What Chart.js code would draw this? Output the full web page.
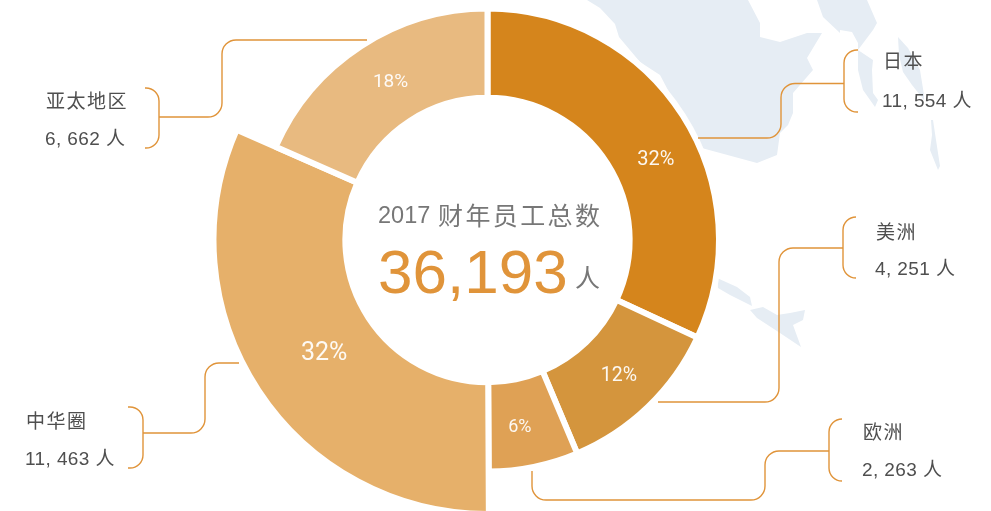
<!DOCTYPE html>
<html>
<head>
<meta charset="utf-8">
<style>
html,body{margin:0;padding:0;background:#fff}
#wrap{position:relative;width:991px;height:511px;overflow:hidden}
#wrap canvas{display:block}
</style>
<script src="https://cdn.jsdelivr.net/npm/chart.js@4"></script>
</head>
<body>
<div id="wrap"><canvas id="c"></canvas></div>
<script>
const regions = ['日本','美洲','欧洲','中华圈','亚太地区'];
const staff = [11554,4251,2263,11463,6662];
const percentLabels = ['32%','12%','6%','32%','18%'];
const staffLabels = ['11, 554 人','4, 251 人','2, 263 人','11, 463 人','6, 662 人'];
const sliceColors = ['#D5851C','#D4953D','#DFA155','#E6B06A','#E8BA80'];
const totalYear = '2017';
const totalTitle = '财年员工总数';
const totalValue = '36,193';
const totalUnit = '人';

const LINE = '#E0943A', MAP = '#E6EDF4', TEXT = '#4F4F4F', GREY = '#777777';
const SANS = '"Liberation Sans","Noto Sans CJK SC",sans-serif';

// decorative background map, zoom-crop outlines
const mapShapes = [
 [[587,0],[600,8],[615,24],[619,37],[640,62],[660,75],[698,147],[757,163],[777,155],[780,133],[788,125],[793,113],[793,93],[813,70],[807,58],[822,33],[807,33],[780,42],[760,37],[760,23],[748,0]],
 [[817,0],[823,17],[840,33],[840,30],[852,32],[858,43],[858,50],[873,60],[872,70],[873,93],[878,100],[875,107],[863,90],[858,70],[858,50],[873,30],[877,23],[867,0]],
 [[898,37],[908,48],[920,70],[924,95],[924,100],[912,85],[903,72],[899,55]],
 [[931,120],[932,135],[930,150],[938,170],[940,166],[936,140],[933,120]],
 [[717,278],[737,287],[750,297],[752,306],[730,295],[718,288]],
 [[750,310],[763,307],[777,315],[790,313],[805,310],[803,320],[793,325],[801,347],[780,333],[757,318]]
];
// leader-line routes and brackets
const leaders = [
 {b:[858,844,50,112], p:[[844,83.5],[781,83.5],[781,138],[698,138]]},
 {b:[856,843,217,278], p:[[843,248],[779,248],[779,402],[658,402]]},
 {b:[842,829,419,481], p:[[829,451],[765,451],[765,500],[532,500],[532,471]]},
 {b:[128,143,407,468], p:[[143,433],[205,433],[205,363],[239,363]]},
 {b:[145,159,88,148], p:[[159,117],[222,117],[222,40],[367,40]]}
];
const nameSpots = [[883,61],[876,232],[863,432],[26,421],[46,101]];
const countSpots = [[882,100],[875,268],[862,469],[25,458],[45,138]];
const pctShift = [[11,20],[2,2],[-5,5],[3,5],[5,-2]];
const pctSize = [20,19.5,18,25,19];

const bigSlice = {
 id:'bigSlice',
 beforeDatasetsDraw(chart){
  chart.getDatasetMeta(0).data[3].outerRadius = 274;
 }
};
const backdrop = {
 id:'backdrop',
 beforeDatasetsDraw(chart){
  const c = chart.ctx; c.save(); c.fillStyle = MAP;
  mapShapes.forEach(s=>{c.beginPath();s.forEach((q,i)=>i?c.lineTo(q[0],q[1]):c.moveTo(q[0],q[1]));c.closePath();c.fill();});
  c.restore();
 }
};
const overlay = {
 id:'overlay',
 afterDatasetsDraw(chart){
  const c = chart.ctx; c.save();
  c.strokeStyle = LINE; c.lineWidth = 1.4; c.lineCap='butt';
  leaders.forEach(l=>{
   const [ex,vx,t,bm] = l.b, rr = 13;
   c.beginPath(); c.moveTo(ex,t); c.arcTo(vx,t,vx,t+rr,rr); c.lineTo(vx,bm-rr); c.arcTo(vx,bm,ex,bm,rr); c.lineTo(ex,bm); c.stroke();
   c.beginPath(); c.moveTo(l.p[0][0],l.p[0][1]);
   for(let i=1;i<l.p.length-1;i++) c.arcTo(l.p[i][0],l.p[i][1],l.p[i+1][0],l.p[i+1][1],14);
   const e=l.p[l.p.length-1]; c.lineTo(e[0],e[1]); c.stroke();
  });
  const meta = chart.getDatasetMeta(0);
  c.textBaseline='middle'; c.textAlign='center';
  meta.data.forEach((a,i)=>{
   const mid=(a.startAngle+a.endAngle)/2, r = i===3 ? 199 : 186.5;
   c.fillStyle='rgba(255,255,255,.93)';
   c.font=pctSize[i]+'px Roboto,sans-serif';
   c.fillText(percentLabels[i], a.x+Math.cos(mid)*r+pctShift[i][0], a.y+Math.sin(mid)*r+pctShift[i][1]);
  });
  c.textAlign='left';
  regions.forEach((n,i)=>{
   c.fillStyle=TEXT; c.font='19px "Noto Sans CJK SC",sans-serif'; c.letterSpacing='1.5px';
   c.fillText(n,nameSpots[i][0],nameSpots[i][1]);
   c.font='19px '+SANS; c.letterSpacing='0.4px';
   c.fillText(staffLabels[i],countSpots[i][0],countSpots[i][1]+2);
  });
  c.letterSpacing='0px';
  c.fillStyle=GREY;
  c.font='25px "Noto Sans CJK SC",sans-serif'; c.letterSpacing='2.4px';
  c.fillText(totalTitle,438,215);
  c.letterSpacing='0px';
  c.font='25px "Noto Sans CJK SC",sans-serif';
  c.fillText(totalUnit,575,277);
  c.textBaseline='alphabetic';
  c.font='23.5px "Liberation Sans",sans-serif';
  c.fillText(totalYear,378,223);
  c.fillStyle=LINE; c.font='62px "Liberation Sans",sans-serif';
  c.fillText(totalValue,378,293);
  c.restore();
 }
};

new Chart(document.getElementById('c'),{
 type:'doughnut',
 data:{labels:regions,datasets:[{data:staff,backgroundColor:sliceColors,borderColor:'#ffffff',borderWidth:6,borderAlign:'center',clip:false,hoverOffset:0}]},
 options:{
  responsive:true,maintainAspectRatio:false,animation:false,
  radius:231.5,cutout:'61.4%',
  layout:{padding:{left:259,right:275,top:12,bottom:43}},
  plugins:{legend:{display:false},tooltip:{enabled:false},title:{display:false}}
 },
 plugins:[bigSlice,backdrop,overlay]
});
</script>
</body>
</html>
